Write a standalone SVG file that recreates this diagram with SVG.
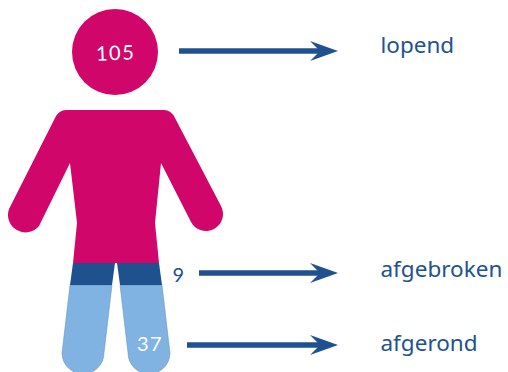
<svg xmlns="http://www.w3.org/2000/svg" width="508" height="372" viewBox="0 0 508 372">
<style>
.lbl{font-family:"Noto Sans","Open Sans",sans-serif;font-size:22.5px;fill:#22528f}
.num{font-family:"Lato","Noto Sans",sans-serif;font-size:20px;letter-spacing:1.500px}
.line{stroke:#20518f;stroke-width:5.500;fill:none}
.head{fill:#20518f}
.pink{fill:#d0066a}.dark{fill:#20518f}.light{fill:#80b3e2;stroke:#5f8fb8;stroke-width:.5}
</style>
<g id="person">
<circle class="pink" cx="115" cy="52" r="43"/>
<path class="pink" d="M66 110H164Q171 110 175 118L221 206A17 17 0 0 1 191 222L161 163L155 223L159 263H73L77 223L70 163L39 226A17.500 17.500 0 0 1 9 209L55 118Q59 110 66 110Z"/>
<path class="light" d="M70 285H112L104 353A21 21 0 0 1 62 353ZM120 285H162L170 353A21 21 0 0 1 128 353Z"/>
<path class="dark" d="M73 263H115L112 285H70ZM117 263H159L162 285H120Z"/>
</g>
<g id="connectors">
<path class="line" d="M179 51H322"/><path class="head" d="M310 41L338 51L310 61L320 51Z"/>
<path class="line" d="M199 273H322"/><path class="head" d="M310 263L338 273L310 283L320 273Z"/>
<path class="line" d="M187 345H322"/><path class="head" d="M310 335L338 345L310 355L320 345Z"/>
</g>
<g id="node-lopend">
<text class="num" x="96" y="60" fill="#fff" transform="rotate(-2 115 54)">105</text>
<text class="lbl" x="380.500" y="53">lopend</text>
</g>
<g id="node-afgebroken">
<text class="num" x="172.500" y="282" fill="#20518f">9</text>
<text class="lbl" x="380.500" y="277">afgebroken</text>
</g>
<g id="node-afgerond">
<text class="num" x="137" y="351" fill="#fff">37</text>
<text class="lbl" x="380.500" y="351">afgerond</text>
</g>
</svg>
